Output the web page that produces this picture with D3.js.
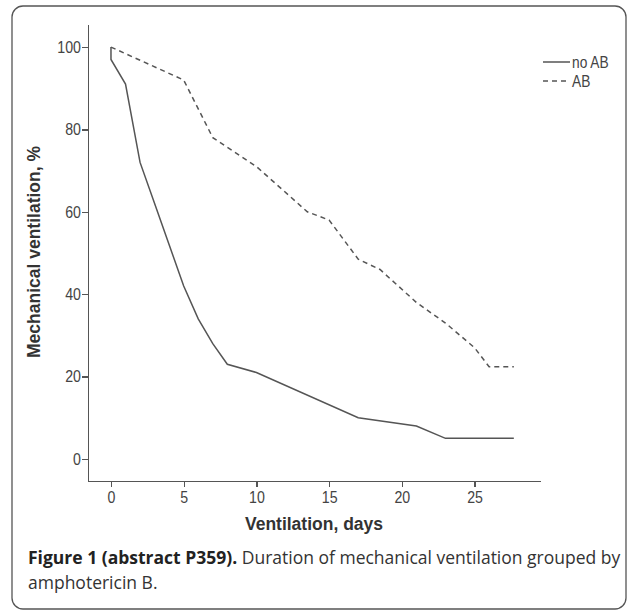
<!DOCTYPE html>
<html>
<head>
<meta charset="utf-8">
<style>
  body { margin: 0; background: #fff; }
  .axis path, .axis line { stroke: #555; stroke-width: 1.3; fill: none; shape-rendering: crispEdges; }
  .axis text { font-family: "Liberation Sans", Arial, sans-serif; font-size: 16.5px; fill: #444; }
  .title { font-family: "Liberation Sans", Arial, sans-serif; font-weight: bold; font-size: 17.5px; fill: #333; }
  .legend text { font-family: "Liberation Sans", Arial, sans-serif; font-size: 16px; fill: #444; }
  .caption { font-family: "Open Sans", "Noto Sans", sans-serif; font-size: 17.5px; fill: #333; }
</style>
<script src="https://d3js.org/d3.v7.min.js"></script>
</head>
<body>
<svg id="chart" width="633" height="613"></svg>
<script>
// no AB (solid)
var daysNoAB = [0, 0, 1, 2, 3, 4, 5, 6, 7, 8, 10, 17, 21, 23, 27.7];
var pctNoAB  = [100, 97, 91, 72, 62, 52, 42, 34, 28, 23, 21, 10, 8, 5, 5];
// AB (dashed)
var daysAB = [0, 5, 7, 10, 13.5, 15, 17, 18.5, 21, 23, 25, 26, 27.7];
var pctAB  = [100, 92, 78, 71, 60, 58, 48.5, 46, 38, 33, 27, 22.4, 22.4];

var xTicks = [0, 5, 10, 15, 20, 25];
var yTicks = [0, 20, 40, 60, 80, 100];
var seriesNames = ["no AB", "AB"];

var svg = d3.select("#chart");

// card frame
svg.append("rect")
  .attr("x", 12).attr("y", 6)
  .attr("width", 614).attr("height", 603)
  .attr("rx", 11)
  .attr("fill", "none")
  .attr("stroke", "#555")
  .attr("stroke-width", 1.3);

var x = d3.scaleLinear().domain([-1.58, 29.5]).range([88, 540]);
var y = d3.scaleLinear().domain([-5.35, 105.6]).range([481, 24]);

var sx = 0.86; // labels are a bit narrow in the original

var xAxis = d3.axisBottom(x).tickValues(xTicks).tickSize(6).tickSizeOuter(0).tickPadding(4);
var yAxis = d3.axisLeft(y).tickValues(yTicks).tickSize(6).tickSizeOuter(0).tickPadding(2);

var gx = svg.append("g")
  .attr("class", "axis")
  .attr("transform", "translate(0,481)")
  .call(xAxis);
gx.selectAll("text").attr("transform", "scale(" + sx + ",1)");

var gy = svg.append("g")
  .attr("class", "axis")
  .attr("transform", "translate(88,0)")
  .call(yAxis);
gy.selectAll("text")
  .attr("transform", "scale(" + sx + ",1)")
  .attr("x", -7 / sx);

svg.append("text")
  .attr("class", "title")
  .attr("x", 314).attr("y", 530)
  .attr("text-anchor", "middle")
  .text("Ventilation, days");

svg.append("text")
  .attr("class", "title")
  .attr("transform", "translate(40,252) rotate(-90)")
  .attr("text-anchor", "middle")
  .text("Mechanical ventilation, %");

var line = d3.line()
  .x(function(d) { return x(d[0]); })
  .y(function(d) { return y(d[1]); });

svg.append("path")
  .datum(d3.zip(daysNoAB, pctNoAB))
  .attr("d", line)
  .attr("fill", "none")
  .attr("stroke", "#555")
  .attr("stroke-width", 1.5);

svg.append("path")
  .datum(d3.zip(daysAB, pctAB))
  .attr("d", line)
  .attr("fill", "none")
  .attr("stroke", "#555")
  .attr("stroke-width", 1.5)
  .attr("stroke-dasharray", "5,4");

// legend
var legend = svg.append("g").attr("class", "legend");
seriesNames.forEach(function(name, i) {
  var ly = 62 + i * 19;
  legend.append("line")
    .attr("x1", 543).attr("x2", 570)
    .attr("y1", ly).attr("y2", ly)
    .attr("stroke", "#555")
    .attr("stroke-width", 1.5)
    .attr("stroke-dasharray", i === 0 ? null : "5,4");
  legend.append("text")
    .attr("transform", "translate(572," + (ly + 5.5) + ") scale(" + sx + ",1)")
    .text(name);
});

// caption
var cap = svg.append("text")
  .attr("class", "caption")
  .attr("x", 28).attr("y", 564);
cap.append("tspan").attr("font-weight", "bold").attr("fill", "#222").text("Figure 1 (abstract P359).");
cap.append("tspan").text(" Duration of mechanical ventilation grouped by");

svg.append("text")
  .attr("class", "caption")
  .attr("x", 28).attr("y", 589)
  .text("amphotericin B.");
</script>
</body>
</html>
